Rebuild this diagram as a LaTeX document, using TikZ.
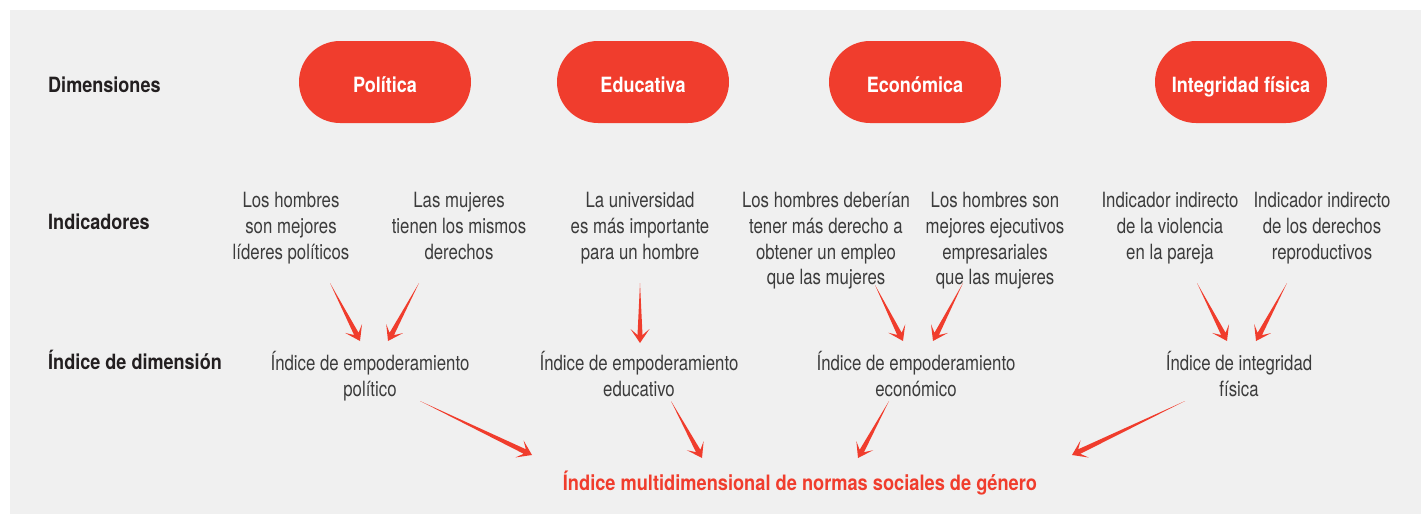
\documentclass[tikz,border=0pt]{standalone}
\usepackage{fontspec}
\usetikzlibrary{calc,shapes.misc}
\newfontfamily\rfont{TeX Gyre Heros}[FakeStretch=0.80]
\newfontfamily\bfont{TeX Gyre Heros}[FakeStretch=0.86]
\definecolor{redx}{RGB}{240,61,45}
\definecolor{bgx}{RGB}{240,240,240}
\definecolor{txtx}{RGB}{60,60,60}
\definecolor{labx}{RGB}{35,31,32}
\newcommand\taparrow[2]{%
  \fill[redx] (#1) -- ($(#2)!8pt!(#1)!2.5pt!90:(#2)$) -- ($(#2)!14pt!(#1)!9.5pt!90:(#2)$) -- (#2)
    -- ($(#2)!14pt!(#1)!9.5pt!-90:(#2)$) -- ($(#2)!8pt!(#1)!2.5pt!-90:(#2)$) -- cycle;}
\tikzset{
  pill/.style={shape=rounded rectangle, fill=redx, minimum width=172pt, minimum height=82pt,
    inner sep=0pt, text height=20pt, text depth=0pt, text=white,
    font=\bfont\bfseries\fontsize{21}{25}\selectfont},
  rowlab/.style={anchor=base west, inner sep=0pt, text=labx,
    font=\bfont\bfseries\fontsize{21}{25}\selectfont},
  ind/.style={anchor=north, inner sep=0pt, align=center, text=txtx,
    font=\rfont\fontsize{21}{25.8}\selectfont, execute at begin node={\rule{0pt}{21pt}}},
  final/.style={anchor=base, inner sep=0pt, text=redx,
    font=\bfont\bfseries\fontsize{21.2}{25}\selectfont}
}
\begin{document}
\begin{tikzpicture}[x=1pt,y=-1pt]
\useasboundingbox (0,0) rectangle (1421,514);
\fill[white] (0,0) rectangle (1421,514);
\fill[bgx] (10,10) rectangle (1421,514);
% row labels
\node[rowlab] (l1) at (48,92) {Dimensiones};
\node[rowlab] (l2) at (48,229) {Indicadores};
\node[rowlab] (l3) at (48,369) {Índice de dimensión};
% dimensions
\node[pill] (p1) at (385,82) {Política};
\node[pill] (p2) at (643,82) {Educativa};
\node[pill] (p3) at (915,82) {Económica};
\node[pill] (p4) at (1241,82) {Integridad física};
% indicators
\node[ind] (i1) at (291,192) {Los hombres\\son mejores\\líderes políticos};
\node[ind] (i2) at (459,192) {Las mujeres\\tienen los mismos\\derechos};
\node[ind] (i3) at (640,192) {La universidad\\es más importante\\para un hombre};
\node[ind] (i4) at (826,192) {Los hombres deberían\\tener más derecho a\\obtener un empleo\\que las mujeres};
\node[ind] (i5) at (995,192) {Los hombres son\\mejores ejecutivos\\empresariales\\que las mujeres};
\node[ind] (i6) at (1170,192) {Indicador indirecto\\de la violencia\\en la pareja};
\node[ind] (i7) at (1322,192) {Indicador indirecto\\de los derechos\\reproductivos};
% dimension indices
\node[ind] (d1) at (370,351) {Índice de empoderamiento\\político};
\node[ind] (d2) at (639,351) {Índice de empoderamiento\\educativo};
\node[ind] (d3) at (916,351) {Índice de empoderamiento\\económico};
\node[ind] (d4) at (1239,351) {Índice de integridad\\física};
% final
\node[final] (f) at (800,490) {Índice multidimensional de normas sociales de género};
% arrow anchors
\coordinate (s1) at (330,283); \coordinate (t1) at (360,341);
\coordinate (s2) at (419,283); \coordinate (t2) at (388,341);
\coordinate (s3) at (640,283); \coordinate (t3) at (640,343);
\coordinate (s4) at (875,285); \coordinate (t4) at (903,341);
\coordinate (s5) at (963,283); \coordinate (t5) at (933,341);
\coordinate (s6) at (1197,283); \coordinate (t6) at (1227,341);
\coordinate (s7) at (1287,283); \coordinate (t7) at (1256,341);
\coordinate (u1) at (420,401); \coordinate (v1) at (532,455);
\coordinate (u2) at (671,401); \coordinate (v2) at (702,458);
\coordinate (u3) at (889,401); \coordinate (v3) at (858,458);
\coordinate (u4) at (1185,401); \coordinate (v4) at (1072,455);
\taparrow{s1}{t1}
\taparrow{s2}{t2}
\taparrow{s3}{t3}
\taparrow{s4}{t4}
\taparrow{s5}{t5}
\taparrow{s6}{t6}
\taparrow{s7}{t7}
\taparrow{u1}{v1}
\taparrow{u2}{v2}
\taparrow{u3}{v3}
\taparrow{u4}{v4}
\end{tikzpicture}
\end{document}
